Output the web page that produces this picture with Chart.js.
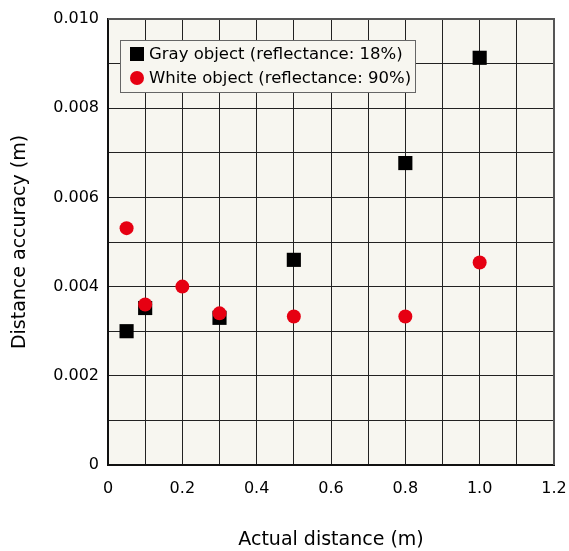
<!DOCTYPE html>
<html>
<head>
<meta charset="utf-8">
<script src="https://cdn.jsdelivr.net/npm/chart.js@4/dist/chart.umd.min.js"></script>
<style>
  html, body { margin: 0; padding: 0; background: #fff; }
  #wrap { width: 569px; height: 551px; }
</style>
</head>
<body>
<div id="wrap"><canvas id="myChart" width="569" height="551"></canvas></div>
<script>
const seriesNames = ['Gray object (reflectance: 18%)', 'White object (reflectance: 90%)'];
const grayX = [0.05, 0.1, 0.3, 0.5, 0.8, 1.0];
const grayY = [0.0030, 0.00352, 0.0033, 0.0046, 0.00677, 0.00913];
const whiteX = [0.05, 0.1, 0.2, 0.3, 0.5, 0.8, 1.0];
const whiteY = [0.00531, 0.0036, 0.0040, 0.0034, 0.00333, 0.00333, 0.00454];
const xTicks = [0, 0.2, 0.4, 0.6, 0.8, 1.0, 1.2];
const yTicks = [0, 0.002, 0.004, 0.006, 0.008, 0.010];

const FONT = '"DejaVu Sans", Verdana, sans-serif';
const PLOT_BG = '#f7f6f0';

function toPoints(xs, ys) {
    return xs.map((x, i) => ({ x: x, y: ys[i] }));
}

function labelFor(list, value, digits) {
    const hit = list.find(t => Math.abs(t - value) < 1e-9);
    if (hit === undefined) return '';
    return hit === 0 ? '0' : hit.toFixed(digits);
}

// plot background + top/right frame
const frame = {
    id: 'frame',
    beforeDraw(chart) {
        const { ctx, chartArea: a } = chart;
        ctx.save();
        ctx.fillStyle = PLOT_BG;
        ctx.fillRect(a.left, a.top, a.right - a.left, a.bottom - a.top);
        ctx.restore();
    },
    afterDatasetsDraw(chart) {
        const { ctx, chartArea: a } = chart;
        ctx.save();
        ctx.strokeStyle = '#555';
        ctx.lineWidth = 2;
        ctx.beginPath();
        ctx.moveTo(a.left, a.top);
        ctx.lineTo(a.right, a.top);
        ctx.lineTo(a.right, a.bottom);
        ctx.stroke();
        ctx.restore();
    }
};

// boxed legend inside the plot
const boxLegend = {
    id: 'boxLegend',
    afterDraw(chart) {
        const ctx = chart.ctx;
        const x = 120, y = 40, w = 295, h = 52;
        ctx.save();
        ctx.fillStyle = PLOT_BG;
        ctx.fillRect(x, y, w, h);
        ctx.strokeStyle = '#666';
        ctx.lineWidth = 1;
        ctx.strokeRect(x + 0.5, y + 0.5, w, h);
        ctx.font = '16.5px ' + FONT;
        ctx.textBaseline = 'middle';
        chart.data.datasets.forEach((ds, i) => {
            const cy = y + 14 + i * 24;
            ctx.fillStyle = ds.backgroundColor;
            if (ds.pointStyle === 'rect') {
                ctx.fillRect(130, cy - 7, 14, 14);
            } else {
                ctx.beginPath();
                ctx.arc(137, cy, 7, 0, Math.PI * 2);
                ctx.fill();
            }
            ctx.fillStyle = '#000';
            ctx.fillText(ds.label, 149, cy + 1);
        });
        ctx.restore();
    }
};

const config = {
    type: 'scatter',
    data: {
        datasets: [
            {
                label: seriesNames[0],
                data: toPoints(grayX, grayY),
                backgroundColor: '#000',
                borderWidth: 0,
                pointStyle: 'rect',
                pointRadius: 10,
                order: 2
            },
            {
                label: seriesNames[1],
                data: toPoints(whiteX, whiteY),
                backgroundColor: '#e60012',
                borderWidth: 0,
                pointStyle: 'circle',
                pointRadius: 7,
                order: 1
            }
        ]
    },
    options: {
        responsive: false,
        animation: false,
        layout: { padding: { top: 19, right: 15, bottom: 0, left: 0 } },
        plugins: {
            legend: { display: false },
            tooltip: { enabled: false }
        },
        scales: {
            x: {
                type: 'linear',
                min: 0,
                max: 1.2,
                afterFit(scale) {
                    scale.height = 86;
                    scale.paddingLeft = 0;
                    scale.paddingRight = 0;
                },
                grid: { color: '#222', lineWidth: 1, drawTicks: false },
                border: { color: '#111', width: 2 },
                ticks: {
                    stepSize: 0.1,
                    padding: 14,
                    color: '#000',
                    font: { family: FONT, size: 16 },
                    maxRotation: 0,
                    autoSkip: false,
                    callback: (v) => labelFor(xTicks, v, 1)
                },
                title: {
                    display: true,
                    text: 'Actual distance (m)',
                    color: '#000',
                    font: { family: FONT, size: 19 },
                    padding: { top: 0, bottom: 0 }
                }
            },
            y: {
                type: 'linear',
                min: 0,
                max: 0.010,
                afterFit(scale) {
                    scale.width = 108;
                    scale.paddingTop = 0;
                    scale.paddingBottom = 0;
                },
                grid: { color: '#222', lineWidth: 1, drawTicks: false },
                border: { color: '#111', width: 2 },
                ticks: {
                    stepSize: 0.001,
                    padding: 9,
                    color: '#000',
                    font: { family: FONT, size: 16 },
                    autoSkip: false,
                    callback: (v) => labelFor(yTicks, v, 3)
                },
                title: {
                    display: true,
                    text: 'Distance accuracy (m)',
                    color: '#000',
                    font: { family: FONT, size: 19 },
                    padding: { top: 9, bottom: 0 }
                }
            }
        }
    },
    plugins: [frame, boxLegend]
};

const myChart = new Chart(document.getElementById('myChart'), config);
</script>
</body>
</html>
